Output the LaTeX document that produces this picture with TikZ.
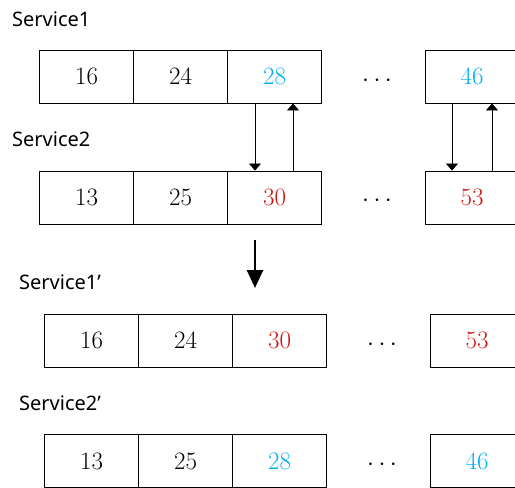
\documentclass[tikz,border=0pt]{standalone}
\usepackage{fontspec}
\newfontfamily\labelfont{Noto Sans}
\usetikzlibrary{arrows.meta}
\definecolor{swapblue}{RGB}{0,176,240}
\definecolor{swapred}{RGB}{204,20,20}
\tikzset{
  cell/.style={draw=black, line width=0.9pt, minimum width=94pt, minimum height=53pt,
    inner sep=0pt, font=\fontsize{25}{28}\selectfont},
  title/.style={anchor=base west, inner sep=0pt, font=\labelfont\fontsize{20}{24}\selectfont},
  dots/.style={inner sep=0pt, font=\fontsize{27}{30}\selectfont},
  swap/.style={line width=0.8pt, -{Triangle[width=12pt,length=7pt]}},
  bigarrow/.style={line width=2.6pt, -{Triangle[width=16pt,length=18pt]}}
}
\newcommand{\ellip}{${\cdot}\mkern3.2mu{\cdot}\mkern3.2mu{\cdot}$}
\begin{document}
\begin{tikzpicture}[x=1pt,y=-1pt]
  \useasboundingbox (0,0) rectangle (515,488);
  \clip (0,0) rectangle (515,488);

  % Service1
  \node[title] (t1) at (12,26) {Service1};
  \node[cell] (a1) at (86.5,76.5) {16};
  \node[cell] (a2) at (180.5,76.5) {24};
  \node[cell,text=swapblue] (a3) at (274.5,76.5) {28};
  \node[dots] (ad) at (377,81) {\ellip};
  \node[cell,text=swapblue] (a4) at (472,76.5) {46};

  % Service2
  \node[title] (t2) at (12,146) {Service2};
  \node[cell] (b1) at (86.5,197.5) {13};
  \node[cell] (b2) at (180.5,197.5) {25};
  \node[cell,text=swapred] (b3) at (274.5,197.5) {30};
  \node[dots] (bd) at (377,201) {\ellip};
  \node[cell,text=swapred] (b4) at (472,197.5) {53};

  % exchanges between the two services
  \draw[swap] ([xshift=-19.5pt]a3.south) -- ([xshift=-19.5pt]b3.north);
  \draw[swap] ([xshift=18.5pt]b3.north) -- ([xshift=18.5pt]a3.south);
  \draw[swap] ([xshift=-20pt]a4.south) -- ([xshift=-20pt]b4.north);
  \draw[swap] ([xshift=20pt]b4.north) -- ([xshift=20pt]a4.south);

  % result
  \coordinate (bt) at (255,240);
  \coordinate (bb) at (255,288);
  \draw[bigarrow] (bt) -- (bb);

  % Service1'
  \node[title] (t3) at (19,289) {Service1’};
  \node[cell] (c1) at (91.5,340.5) {16};
  \node[cell] (c2) at (185.5,340.5) {24};
  \node[cell,text=swapred] (c3) at (279.5,340.5) {30};
  \node[dots] (cd) at (382,345) {\ellip};
  \node[cell,text=swapred] (c4) at (477,340.5) {53};

  % Service2'
  \node[title] (t4) at (19,410) {Service2’};
  \node[cell] (d1) at (91.5,461) {13};
  \node[cell] (d2) at (185.5,461) {25};
  \node[cell,text=swapblue] (d3) at (279.5,461) {28};
  \node[dots] (dd) at (382,465) {\ellip};
  \node[cell,text=swapblue] (d4) at (477,461) {46};
\end{tikzpicture}
\end{document}
